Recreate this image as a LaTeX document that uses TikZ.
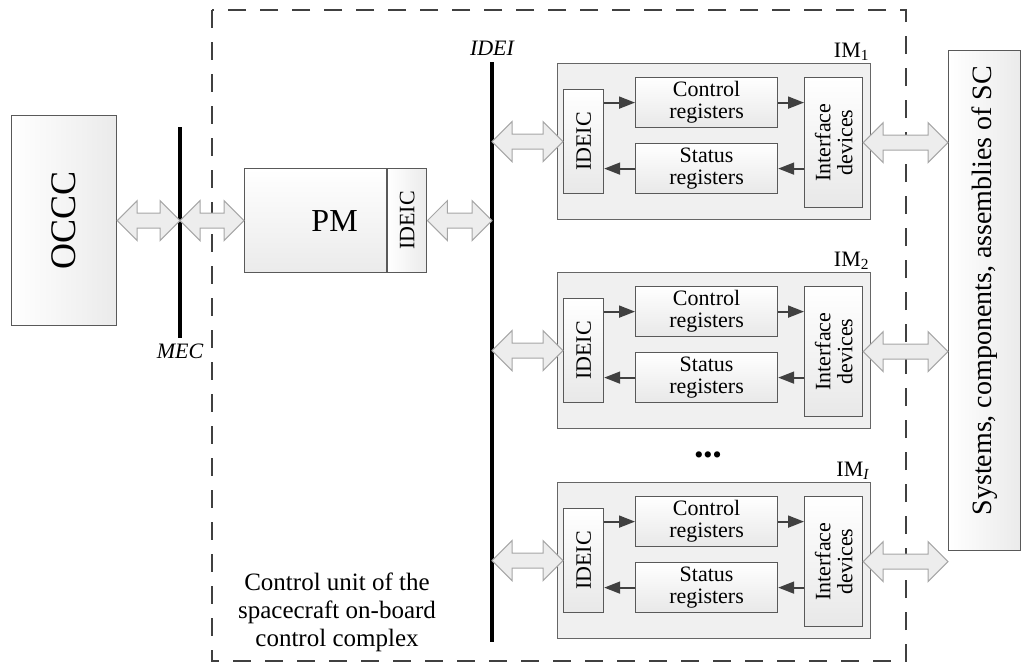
\documentclass[tikz,border=0pt]{standalone}
\usepackage{fontspec}
\setmainfont{Liberation Serif}
\usepackage{tikz}
\usetikzlibrary{positioning,calc,arrows.meta}

% wide two-headed arrow between two points on one level
\newcommand{\fatlink}[2]{%
  \path[fatarr] let \p1=(#1), \p2=(#2) in
    (\x1,\y1) -- (\x1+20pt,\y1+20pt) -- (\x1+20pt,\y1+7.5pt) -- (\x2-20pt,\y1+7.5pt)
    -- (\x2-20pt,\y1+20pt) -- (\x2,\y1) -- (\x2-20pt,\y1-20pt) -- (\x2-20pt,\y1-7.5pt)
    -- (\x1+20pt,\y1-7.5pt) -- (\x1+20pt,\y1-20pt) -- cycle;}

\begin{document}
\begin{tikzpicture}[%
    x=1pt, y=-1pt,
    box/.style={draw=black!65, line width=1.2pt, inner sep=0pt, anchor=north west,
      left color=white, right color=black!8},
    regbox/.style={draw=black!65, line width=1.2pt, inner sep=0pt, anchor=north west,
      top color=white, bottom color=black!9},
    module/.style={draw=black!60, line width=1.2pt, fill=black!6, inner sep=0pt, anchor=north west},
    bus/.style={line width=4pt, black},
    sig/.style={draw=black!75, line width=1.8pt, -{Triangle[length=16pt,width=12pt]}},
    fatarr/.style={draw=black!35, fill=black!7, line width=1pt},
    txt/.style={font=\fontsize{22}{22}\selectfont, align=center, inner sep=0pt},
    bigtxt/.style={font=\fontsize{32}{32}\selectfont, inner sep=0pt},
    frame/.style={draw=black!75, line width=2.5pt, dash pattern=on 18pt off 14pt}
  ]
    \useasboundingbox (0,0) rectangle (1022,662);

    % control unit border
    \draw[frame] (212,10) rectangle (906,661);
    \node[font=\fontsize{25}{28}\selectfont, align=center] (cu) at (337,612)
      {Control unit of the\\spacecraft on-board\\control complex};

    % buses
    \coordinate (mectop) at (180,127);
    \coordinate (mecbot) at (180,338);
    \draw[bus] (mectop) -- (mecbot);
    \node[txt, font=\fontsize{22}{22}\selectfont\itshape, below=6pt of mecbot] (mec) {MEC};

    \coordinate (ideitop) at (492,62);
    \coordinate (ideibot) at (492,642);
    \draw[bus] (ideitop) -- (ideibot);
    \node[txt, font=\fontsize{22}{22}\selectfont\itshape, above=6pt of ideitop] (idei) {IDEI};

    % left part
    \node[box, minimum width=105pt, minimum height=210pt,
      label={[rotate=90, bigtxt, font=\fontsize{36}{36}\selectfont]center:OCCC}] (occc) at (11,115) {};
    \node[box, top color=white, bottom color=black!8, minimum width=142pt, minimum height=104pt,
      label={[bigtxt, xshift=19pt]center:PM}] (pm) at (244,168) {};
    \node[box, right=0pt of pm, minimum width=39pt, minimum height=104pt,
      label={[rotate=90, txt]center:IDEIC}] (pmideic) {};

    % right part
    \node[box, minimum width=72pt, minimum height=500pt,
      label={[rotate=90, txt, font=\fontsize{28}{28}\selectfont, xshift=10pt]center:{Systems, components, assemblies of SC}}]
      (sys) at (948,50) {};

    \fatlink{occc.east}{occc.east -| mectop}
    \fatlink{pm.west -| mectop}{pm.west}
    \fatlink{pmideic.east}{pmideic.east -| ideitop}

    % interface modules
    \foreach \k/\y/\idx in {1/63/1, 2/272/2, 3/482/{\itshape I}}{
      \node[module, minimum width=313pt, minimum height=156pt] (im\k) at (557,\y) {};
      \node[txt, anchor=south east, inner sep=2pt] (imlab\k) at (im\k.north east)
        {IM\textsubscript{\idx}};
      \node[regbox, minimum width=40pt, minimum height=104pt,
        label={[rotate=90, txt]center:IDEIC}] (ideic\k) at (563,\y+26) {};
      \node[regbox, minimum width=142pt, minimum height=50pt, txt] (ctrl\k) at (635,\y+14)
        {Control\\registers};
      \node[regbox, minimum width=142pt, minimum height=50pt, txt] (stat\k) at (635,\y+80)
        {Status\\registers};
      \node[regbox, minimum width=58pt, minimum height=130pt,
        label={[rotate=90, txt]center:Interface\\devices}] (ifd\k) at (804,\y+14) {};

      \draw[sig] (ctrl\k.west -| ideic\k.east) -- (ctrl\k.west);
      \draw[sig] (stat\k.west) -- (stat\k.west -| ideic\k.east);
      \draw[sig] (ctrl\k.east) -- (ctrl\k.east -| ifd\k.west);
      \draw[sig] (stat\k.east -| ifd\k.west) -- (stat\k.east);

      \fatlink{ideic\k.west -| ideitop}{ideic\k.west}
      \fatlink{ifd\k.east}{ifd\k.east -| sys.west}
    }

    \node[font=\fontsize{26}{26}\selectfont, inner sep=0pt] (dots) at (708,458)
      {\textbullet\textbullet\textbullet};
\end{tikzpicture}
\end{document}
